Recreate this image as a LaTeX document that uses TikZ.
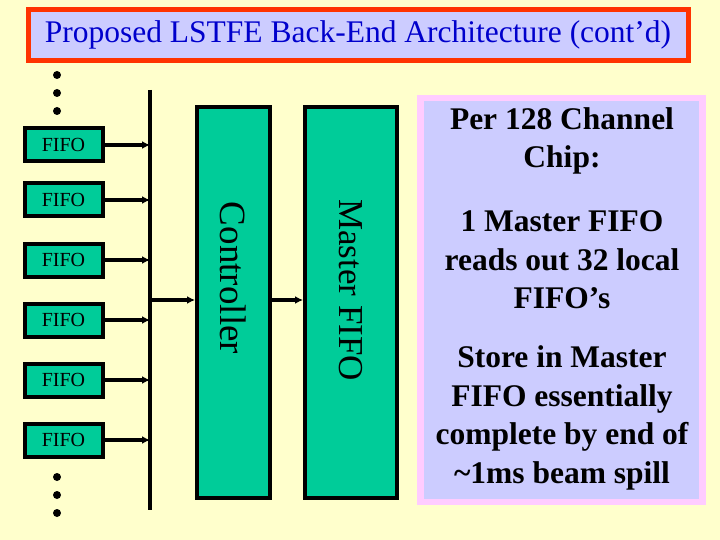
\documentclass[tikz,border=0pt]{standalone}
\usepackage{fontspec}
\setmainfont{Liberation Serif}
\usetikzlibrary{arrows.meta}
\definecolor{bg}{HTML}{FFFFCC}
\definecolor{grn}{HTML}{00CC99}
\definecolor{lav}{HTML}{CCCCFF}
\definecolor{pnk}{HTML}{FFCCFF}
\definecolor{redb}{HTML}{FF3300}
\definecolor{tblue}{HTML}{0000CC}
\begin{document}
\begin{tikzpicture}[x=1pt,y=-1pt,
  fifo/.style={draw=black,line width=4pt,fill=grn,minimum width=78pt,minimum height=33pt,inner sep=0pt,font=\fontsize{20}{20}\selectfont},
  tall/.style={draw=black,line width=4pt,fill=grn,inner sep=0pt},
  arr/.style={line width=3.5pt,-{Latex[length=8pt,width=8pt]}},
  dotn/.style={circle,fill=black,minimum size=8pt,inner sep=0pt},
  ptxt/.style={font=\bfseries\fontsize{31.5}{38.5}\selectfont,align=center}]
\fill[bg] (0,0) rectangle (720,540);
\useasboundingbox (0,0) rectangle (720,540);
% title
\node[draw=redb,line width=5pt,fill=lav,minimum width=660pt,minimum height=51pt,inner sep=0pt,text=tblue,font=\fontsize{31.5}{31.5}\selectfont] (title) at (358,35) {Proposed LSTFE Back-End Architecture (cont’d)};
% panel
\fill[pnk] (417,95) rectangle (706,505);
\node[fill=lav,minimum width=275pt,minimum height=398pt,inner sep=0pt] (panel) at (561.5,300) {};
\node[ptxt] (t1) at (562,141) {Per 128 Channel\\Chip:};
\node[ptxt] (t2) at (562,260) {1 Master FIFO\\reads out 32 local\\FIFO’s};
\node[ptxt] (t3) at (562,418) {Store in Master\\FIFO essentially\\complete by end of\\\char`\~1ms beam spill};
% bus
\coordinate (bt) at (150,90);
\coordinate (bb) at (150,510);
\draw[line width=4pt] (bt) -- (bb);
% fifos
\foreach \i/\y in {1/145,2/200,3/260,4/320,5/380,6/440}{
  \node[fifo] (f\i) at (63.5,\y) {FIFO};
  \coordinate (b\i) at (150,\y);
  \draw[arr] (f\i.east) -- (b\i);
}
% dots
\foreach \i/\y in {1/75,2/93,3/111,4/477,5/495,6/513}{
  \node[dotn] (d\i) at (57,\y) {};
}
% controller and master
\node[tall,minimum width=73pt,minimum height=391pt] (ctl) at (233.5,302.5) {};
\node[rotate=-90,font=\fontsize{37}{37}\selectfont] (ctlt) at (233.5,278) {Controller};
\node[tall,minimum width=92pt,minimum height=391pt] (mf) at (351,302.5) {};
\node[rotate=-90,font=\fontsize{35}{35}\selectfont] (mft) at (351,290) {Master FIFO};
\coordinate (bm) at (150,300);
\draw[arr] (bm) -- (ctl.west|-bm);
\draw[arr] (ctl.east|-bm) -- (mf.west|-bm);
\end{tikzpicture}
\end{document}
